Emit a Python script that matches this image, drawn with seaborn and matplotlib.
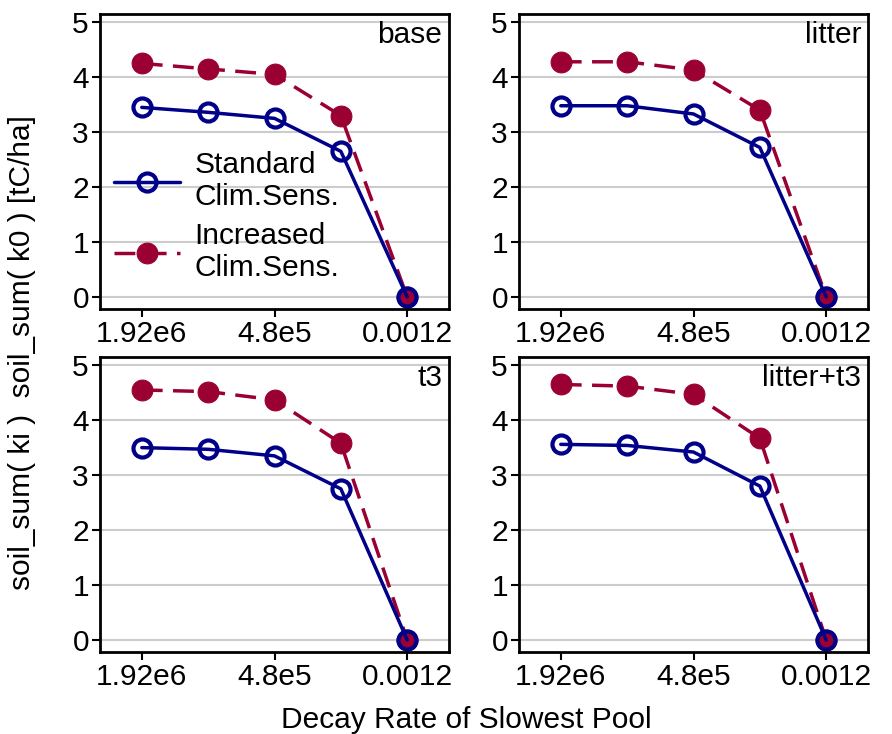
import matplotlib
matplotlib.use("Agg")
import matplotlib.pyplot as plt
import seaborn as sns
import pandas as pd

sns.set_theme(style="white")
plt.rcParams['font.family'] = ['Liberation Sans', 'DejaVu Sans']
plt.rcParams['text.color'] = 'black'

categories = ["1.92e6", "c2", "4.8e5", "c4", "0.0012"]
tick_labels = ["1.92e6", "", "4.8e5", "", "0.0012"]
panels = ["base", "litter", "t3", "litter+t3"]
std_vals = {
    "base": [3.45, 3.36, 3.25, 2.65, 0.0],
    "litter": [3.48, 3.48, 3.33, 2.72, 0.0],
    "t3": [3.50, 3.47, 3.35, 2.75, 0.0],
    "litter+t3": [3.56, 3.54, 3.42, 2.80, 0.0],
}
inc_vals = {
    "base": [4.25, 4.15, 4.05, 3.30, 0.0],
    "litter": [4.28, 4.28, 4.13, 3.40, 0.0],
    "t3": [4.55, 4.52, 4.37, 3.58, 0.0],
    "litter+t3": [4.65, 4.62, 4.47, 3.67, 0.0],
}

fig = plt.figure(figsize=(8.92, 7.34), dpi=100)
W, H = 892, 734
boxes = [(100, 14), (519, 14), (100, 357), (519, 357)]
aw, ah = 349, 295
red = "#9b0033"
blue = "#000088"
FS = 21.5
for p, (x0, y0) in zip(panels, boxes):
    ax = fig.add_axes([x0 / W, 1 - (y0 + ah) / H, aw / W, ah / H])
    xs = list(range(len(categories)))
    df = pd.DataFrame({"x": xs, "std": std_vals[p], "inc": inc_vals[p]})
    sns.lineplot(data=df, x="x", y="inc", ax=ax, color=red, lw=2.5,
                 marker="o", markersize=15, markeredgecolor=red,
                 dashes=False, linestyle=(0, (6, 3)), label="Increased\nClim.Sens.")
    sns.lineplot(data=df, x="x", y="std", ax=ax, color=blue, lw=2.5,
                 marker="o", markersize=13, markerfacecolor="none",
                 markeredgecolor=blue, markeredgewidth=3, label="Standard\nClim.Sens.")
    ax.set_xlim(-0.63, 4.63)
    ax.set_ylim(-0.22, 5.15)
    ax.set_yticks([0, 1, 2, 3, 4, 5])
    ax.set_xticks(xs)
    ax.set_xticklabels(tick_labels)
    ax.tick_params(axis="both", labelsize=FS, direction="out", length=6, width=1.5,
                   colors="black", left=True, bottom=True, pad=2)
    for xt, lab in zip(ax.xaxis.get_major_ticks(), tick_labels):
        if lab == "":
            xt.tick1line.set_visible(False)
    ax.yaxis.grid(True, color="#cccccc", lw=1.5)
    ax.set_axisbelow(True)
    for s in ax.spines.values():
        s.set_color("black"); s.set_linewidth(2)
    ax.set_xlabel(""); ax.set_ylabel("")
    ax.text(0.98, 0.975, p, transform=ax.transAxes, ha="right", va="top", fontsize=FS)
    if p == "base":
        h, l = ax.get_legend_handles_labels()
        ax.legend(h[::-1], l[::-1], loc="lower left", bbox_to_anchor=(-0.02, 0.02),
                  frameon=False, fontsize=FS, handlelength=2.2, labelspacing=0.35,
                  handletextpad=0.5, borderpad=0.2)
    else:
        ax.get_legend().remove()

fig.text(8 / W, 0.52, "soil_sum( ki )  soil_sum( k0 ) [tC/ha]", rotation=90,
         ha="left", va="center", fontsize=FS)
fig.text(0.5 + 20 / W, 0 / H, "Decay Rate of Slowest Pool", ha="center", va="bottom", fontsize=FS)
fig.savefig("out.png", dpi=100)
